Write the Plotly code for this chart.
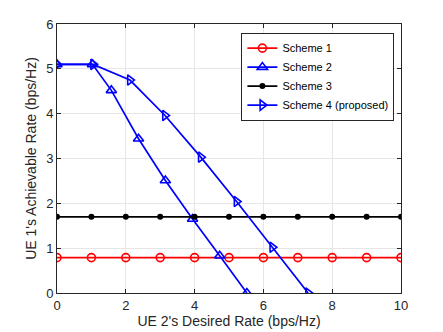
import plotly.graph_objects as go

# Data
x_flat = [0, 1, 2, 3, 4, 5, 6, 7, 8, 9, 10]
scheme1_y = [0.79] * 11
scheme3_y = [1.70] * 11

scheme2_x = [0, 1.03, 1.58, 2.37, 3.15, 3.94, 4.73, 5.52]
scheme2_y = [5.1, 5.1, 4.52, 3.44, 2.51, 1.65, 0.83, 0.0]

scheme4_x = [0, 1.05, 2.12, 3.14, 4.18, 5.22, 6.26, 7.30]
scheme4_y = [5.1, 5.1, 4.75, 3.96, 3.03, 2.04, 1.02, 0.0]

FONT = "Liberation Sans, Arial, sans-serif"
RED = "#FF0000"
BLUE = "#0000FF"
BLACK = "#000000"

fig = go.Figure()

fig.add_trace(go.Scatter(
    x=x_flat, y=scheme1_y, name="Scheme 1", mode="lines+markers",
    line=dict(color=RED, width=1.7),
    marker=dict(symbol="circle-open", size=8, color=RED, line=dict(width=1.6)),
))
fig.add_trace(go.Scatter(
    x=scheme2_x, y=scheme2_y, name="Scheme 2", mode="lines+markers",
    line=dict(color=BLUE, width=1.7),
    marker=dict(symbol="triangle-up-open", size=9, color=BLUE, line=dict(width=1.6)),
))
fig.add_trace(go.Scatter(
    x=x_flat, y=scheme3_y, name="Scheme 3", mode="lines+markers",
    line=dict(color=BLACK, width=1.7),
    marker=dict(symbol="circle", size=6, color=BLACK),
))
fig.add_trace(go.Scatter(
    x=scheme4_x, y=scheme4_y, name="Scheme 4 (proposed)", mode="lines+markers",
    line=dict(color=BLUE, width=1.7),
    marker=dict(symbol="triangle-right-open", size=9, color=BLUE, line=dict(width=1.6)),
))

axis_common = dict(
    showgrid=True, gridcolor="#E6E6E6", gridwidth=1,
    showline=True, linecolor="#262626", linewidth=1, mirror="ticks",
    ticks="inside", ticklen=4, tickcolor="#262626",
    zeroline=False, tickfont=dict(size=13, color="#262626"),
    automargin=False,
)

fig.update_layout(
    width=443, height=332,
    font=dict(family=FONT, color="#262626"),
    paper_bgcolor="white", plot_bgcolor="white",
    margin=dict(l=57, r=42, t=24, b=39),
    xaxis=dict(range=[0, 10], dtick=2,
               title=dict(text="UE 2's Desired Rate (bps/Hz)", font=dict(size=14), standoff=2),
               **axis_common),
    yaxis=dict(range=[0, 6], dtick=1,
               title=dict(text="UE 1's Achievable Rate (bps/Hz)", font=dict(size=14), standoff=6),
               **axis_common),
    legend=dict(
        x=0.536, y=0.968, xanchor="left", yanchor="top",
        bgcolor="white", bordercolor="#262626", borderwidth=1,
        font=dict(size=11, color="#000000"),
        tracegroupgap=0, itemwidth=30,
    ),
    showlegend=True,
)

# page body has a default 8px margin; drop it so the figure sits at (0, 0)
fig.write_html("out.html", config={"displayModeBar": False},
               post_script="document.body.style.margin='0';")
